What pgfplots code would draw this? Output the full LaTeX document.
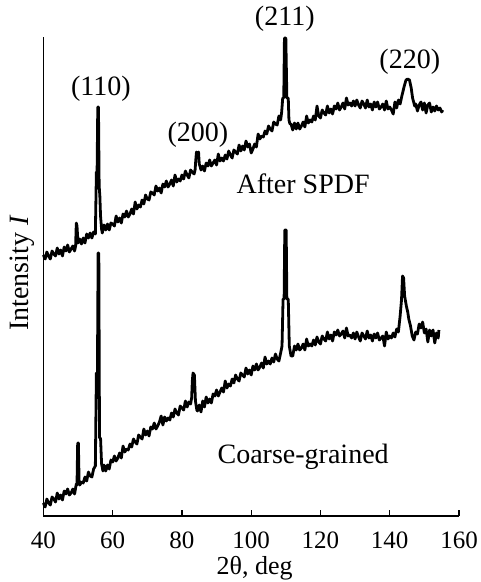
\documentclass[border=0pt]{standalone}
\usepackage{pgfplots}
\pgfplotsset{compat=1.18}
\usepackage{fontspec}
\setmainfont{Liberation Serif}
\begin{document}
\begin{tikzpicture}
\useasboundingbox (-43.4pt,-66pt) rectangle (437.6pt,516pt);
\begin{axis}[
  scale only axis, width=415.6pt, height=479pt,
  xmin=40, xmax=160, ymin=0, ymax=479,
  axis x line=bottom, axis y line=left,
  axis line style={-, line width=1.2pt},
  xtick={40,60,...,160}, ytick=\empty,
  tick align=inside, major tick length=6pt,
  every tick/.style={black, line width=1.2pt},
  xticklabel style={font=\fontsize{25}{30}\selectfont, yshift=-12pt},
  /pgf/number format/assume math mode=true,
  clip=false,
]
\addplot[black, line width=2.8pt, line join=round] coordinates {
(40,261)(40.5,257)(41,264)(41.5,260)(42,257)(42.5,265)(43,262)(43.5,260)(44,268)(44.5,262)
(45,266)(45.5,260)(46,269)(46.5,265)(47,271)(47.5,264)(48,267)(48.5,270)(49,265)(49.3,270)
(49.5,293)(49.7,290)(50,273)(50.5,277)(51,272)(51.5,278)(52,273)(52.5,282)(53,278)(53.5,283)
(54,278)(54.5,284)(55,282)(55.3,344)(55.5,344)(55.7,409)(55.9,409)(56.1,330)(56.3,320)(56.5,300)
(56.8,287)(57,283)(57.5,291)(58,286)(58.5,292)(59,286)(59.5,293)(60,292)(60.5,290)(61,300)
(61.5,294)(62,298)(62.5,293)(63,302)(63.5,299)(64,305)(64.5,299)(65,302)(65.5,307)(66,302)
(66.5,314)(67,307)(67.5,311)(68,309)(68.5,316)(69,312)(69.5,321)(70,317)(70.5,316)(71,324)
(71.5,323)(72,321)(72.5,330)(73,325)(73.5,328)(74,323)(74.5,332)(75,329)(75.5,335)(76,329)
(76.5,332)(77,336)(77.5,330)(78,341)(78.5,334)(79,337)(79.5,335)(80,341)(80.5,337)(81,345)
(81.5,341)(82,338)(82.5,346)(83,344)(83.5,342)(83.8,346)(84,356)(84.2,364)(84.5,362)(84.8,364)
(85,352)(85.2,350)(85.5,346)(86,350)(86.5,345)(87,353)(87.5,350)(88,356)(88.5,350)(89,353)
(89.5,356)(90,351)(90.5,362)(91,355)(91.5,358)(92,355)(92.5,361)(93,357)(93.5,365)(94,361)
(94.5,358)(95,366)(95.5,364)(96,362)(96.5,371)(97,365)(97.5,370)(98,366)(98.5,375)(99,369)
(99.5,372)(100,363)(100.5,367)(101,372)(101.5,369)(102,382)(102.5,377)(103,380)(103.5,379)(104,385)
(104.5,382)(105,390)(105.5,387)(106,385)(106.5,394)(107,392)(107.5,391)(108,400)(108.5,396)(108.8,404)
(109.1,418)(109.4,418)(109.6,478)(110,478)(110.3,418)(110.7,418)(110.9,396)(111.2,392)(111.5,392)(112,386)
(112.5,393)(113,387)(113.5,393)(114,387)(114.5,390)(115,394)(115.5,389)(116,400)(116.5,393)(117,396)
(117.5,394)(118,400)(118.5,396)(119,410)(119.5,400)(120,398)(120.5,406)(121,403)(121.5,401)(122,410)
(122.5,403)(123,407)(123.5,402)(124,410)(124.5,407)(125,413)(125.5,406)(126,409)(126.5,413)(127,407)
(127.5,418)(128,411)(128.5,413)(129,410)(129.5,415)(130,410)(130.5,416)(131,411)(131.5,408)(132,415)
(132.5,412)(133,408)(133.5,416)(134,409)(134.5,412)(135,406)(135.5,414)(136,409)(136.5,414)(137,407)
(137.5,409)(138,412)(138.5,406)(139,415)(139.5,407)(140,409)(140.5,406)(141,402)(141.5,414)(142,408)
(142.5,416)(143,412)(143.5,420)(144.2,430)(144.7,436)(145.2,437)(145.7,436)(146.2,428)(146.6,418)(147.2,410)
(147.5,412)(148,405)(148.5,411)(149,414)(149.5,406)(150,413)(150.5,403)(151,411)(151.5,413)(152,404)
(152.5,409)(153,405)(153.5,410)(154,406)(154.5,408)(155,404)(155.3,406)
};
\addplot[black, line width=2.8pt, line join=round] coordinates {
(40,13)(40.5,9)(41,17)(41.5,13)(42,11)(42.5,19)(43,17)(43.5,14)(44,23)(44.5,17)
(45,21)(45.5,16)(46,25)(46.5,22)(47,27)(47.5,21)(48,23)(48.5,27)(49,22)(49.5,32)
(49.7,31)(49.9,73)(50.1,73)(50.3,36)(50.5,31)(51,34)(51.5,33)(52,39)(52.5,35)(53,44)
(53.5,40)(54,39)(54.5,47)(55,50)(55.3,143)(55.6,143)(55.8,263)(56,263)(56.2,78)(56.5,78)
(56.8,52)(57.2,45)(57.5,51)(58,45)(58.5,51)(59,47)(59.5,56)(60,54)(60.5,60)(61,55)
(61.5,58)(62,63)(62.5,58)(63,70)(63.5,64)(64,67)(64.5,66)(65,72)(65.5,69)(66,77)
(66.5,74)(67,72)(67.5,81)(68,79)(68.5,77)(69,87)(69.5,81)(70,85)(70.5,80)(71,89)
(71.5,87)(72,93)(72.5,87)(73,90)(73.5,94)(74,100)(74.5,91)(75,99)(75.5,95)(76,98)
(76.5,96)(77,103)(77.5,99)(78,107)(78.5,103)(79,101)(79.5,110)(80,108)(80.5,106)(81,115)
(81.5,109)(82,114)(82.5,112)(82.8,118)(83,135)(83.2,143)(83.6,141)(83.9,115)(84.3,106)(84.5,105)
(85,111)(85.5,104)(86,115)(86.5,109)(87,119)(87.5,113)(88,117)(88.5,113)(89,122)(89.5,120)
(90,126)(90.5,120)(91,124)(91.5,128)(92,124)(92.5,135)(93,128)(93.5,132)(94,130)(94.5,137)
(95,133)(95.5,141)(96,137)(96.5,135)(97,143)(97.5,141)(98,139)(98.5,148)(99,142)(99.5,146)
(100,141)(100.5,150)(101,146)(101.5,152)(102,146)(102.5,149)(103,153)(103.5,148)(104,159)(104.5,152)
(105,155)(105.5,152)(106,158)(106.5,154)(107,162)(107.5,157)(108,155)(108.5,163)(108.9,170)(109.2,217)
(109.5,217)(109.7,286)(110.1,286)(110.3,217)(110.7,217)(111,170)(111.3,164)(111.5,160)(112,160)(112.5,170)
(113,166)(113.5,172)(114,166)(114.5,168)(115,172)(115.5,166)(116,177)(116.5,170)(117,172)(117.5,170)
(118,176)(118.5,171)(119,179)(119.5,174)(120,172)(120.5,180)(121,177)(121.5,175)(122,184)(122.5,177)
(123,181)(123.5,175)(124,184)(124.5,181)(125,186)(125.5,180)(126,182)(126.5,185)(127,178)(127.5,188)
(128,180)(128.5,181)(129,178)(129.5,183)(130,177)(130.5,184)(131,179)(131.5,175)(132,183)(132.5,180)
(133,177)(133.5,185)(134,178)(134.5,181)(135,175)(135.5,182)(136,178)(136.5,183)(137,176)(137.5,178)
(138,180)(138.5,170)(139,184)(139.5,177)(140,180)(140.5,178)(141,183)(141.5,179)(142,187)(142.5,184)
(143,200)(143.4,216)(143.7,240)(144,238)(144.3,220)(144.8,210)(145.2,204)(145.5,197)(146,190)(146.5,180)
(147,176)(147.5,184)(148,182)(148.5,192)(149,188)(149.5,194)(150,183)(150.5,187)(151,174)(151.5,186)
(152,180)(152.5,186)(153,173)(153.5,183)(154,178)(154.2,186)
};
\node[font=\fontsize{28}{32}\selectfont] at (axis cs:56.6,427) {(110)};
\node[font=\fontsize{28}{32}\selectfont] at (axis cs:84.6,381) {(200)};
\node[font=\fontsize{28}{32}\selectfont] at (axis cs:109.7,497) {(211)};
\node[font=\fontsize{28}{32}\selectfont] at (axis cs:145.8,454) {(220)};
\node[font=\fontsize{28}{32}\selectfont, anchor=base] at (axis cs:115,322) {After SPDF};
\node[font=\fontsize{28}{32}\selectfont, anchor=base] at (axis cs:115,53) {Coarse-grained};
\node[font=\fontsize{28}{32}\selectfont, rotate=90] at (axis cs:34.0,243) {Intensity \textit{I}};
\node[font=\fontsize{26}{30}\selectfont] at (axis cs:101,-52) {2θ, deg};
\end{axis}
\end{tikzpicture}
\end{document}
